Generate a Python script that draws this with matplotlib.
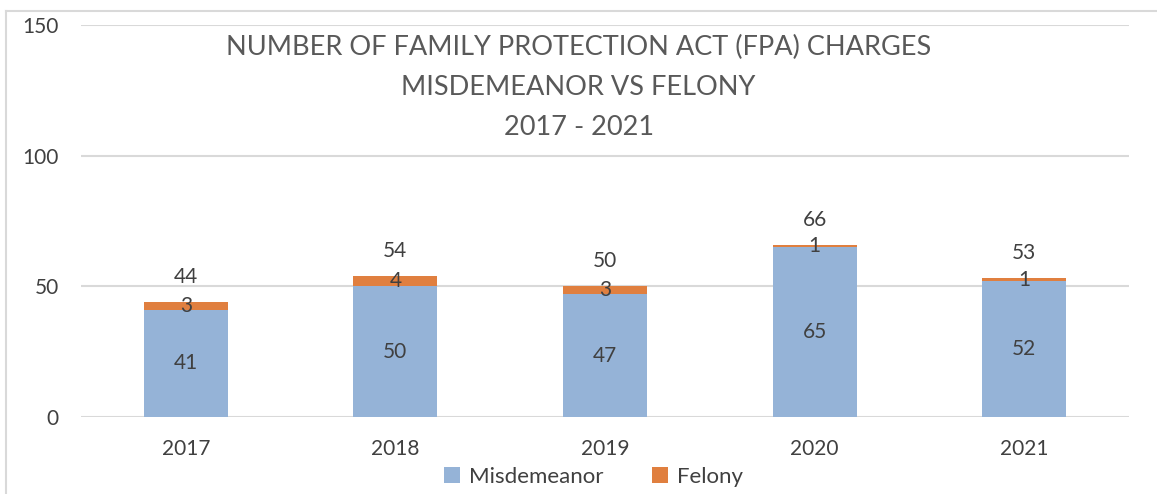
"""Stacked bars of FPA charges, misdemeanor vs felony"""
import numpy as np
import matplotlib.pyplot as plt
from matplotlib.lines import Line2D

years = ["2017", "2018", "2019", "2020", "2021"]
misdemeanor = [41, 50, 47, 65, 52]
felony = [3, 4, 3, 1, 1]
totals = [44, 54, 50, 66, 53]

blue = "#95B3D7"
orange = "#E07F3F"
txt = "#404040"
grid = "#D9D9D9"

plt.rcParams["font.family"] = ["Lato", "DejaVu Sans"]

fig = plt.figure(figsize=(11.57, 4.94), dpi=100)
ax = fig.add_axes([0.070, 0.1559, 0.9058, 0.7935])

x = np.arange(len(years))
b1 = ax.bar(x, misdemeanor, width=0.4, color=blue, label="Misdemeanor", zorder=2)
b2 = ax.bar(x, felony, width=0.4, bottom=misdemeanor, color=orange, label="Felony", zorder=2)

ax.bar_label(b1, label_type="center", fontsize=15, color=txt)
ax.bar_label(b2, label_type="center", fontsize=15, color=txt)
for xi, t in zip(x, totals):
    ax.annotate(str(t), (xi, t), xytext=(0, 18), textcoords="offset points",
                ha="center", va="center", fontsize=15, color=txt)

ax.set_xlim(-0.5, len(years) - 0.5)
ax.set_ylim(0, 150)
ax.set_yticks([0, 50, 100, 150])
ax.set_xticks(x, years)
ax.yaxis.grid(True, color=grid, linewidth=1.5, zorder=0)
ax.set_axisbelow(True)
for s in ax.spines.values():
    s.set_visible(False)
ax.tick_params(axis="both", length=0, labelsize=15, labelcolor=txt)
ax.tick_params(axis="x", pad=16)
ax.tick_params(axis="y", pad=16)

fig.text(0.5, 0.822, "NUMBER OF FAMILY PROTECTION ACT (FPA) CHARGES\nMISDEMEANOR VS FELONY\n2017 - 2021",
         ha="center", va="center", fontsize=19.5, color="#595959", linespacing=1.75)

fig.legend(loc="center", bbox_to_anchor=(0.513, 1 - 477 / 494), ncol=2, frameon=False,
           fontsize=16, labelcolor=txt, handlelength=0.7, handleheight=0.7,
           handletextpad=0.4, columnspacing=2.2)

# chart border (only top and left are visible)
fig.add_artist(Line2D([6 / 1157, 6 / 1157], [0, 1 - 11 / 494], transform=fig.transFigure, color=grid, lw=1.5))
fig.add_artist(Line2D([6 / 1157, 1], [1 - 11 / 494, 1 - 11 / 494], transform=fig.transFigure, color=grid, lw=1.5))

fig.savefig("out.png", dpi=100)
